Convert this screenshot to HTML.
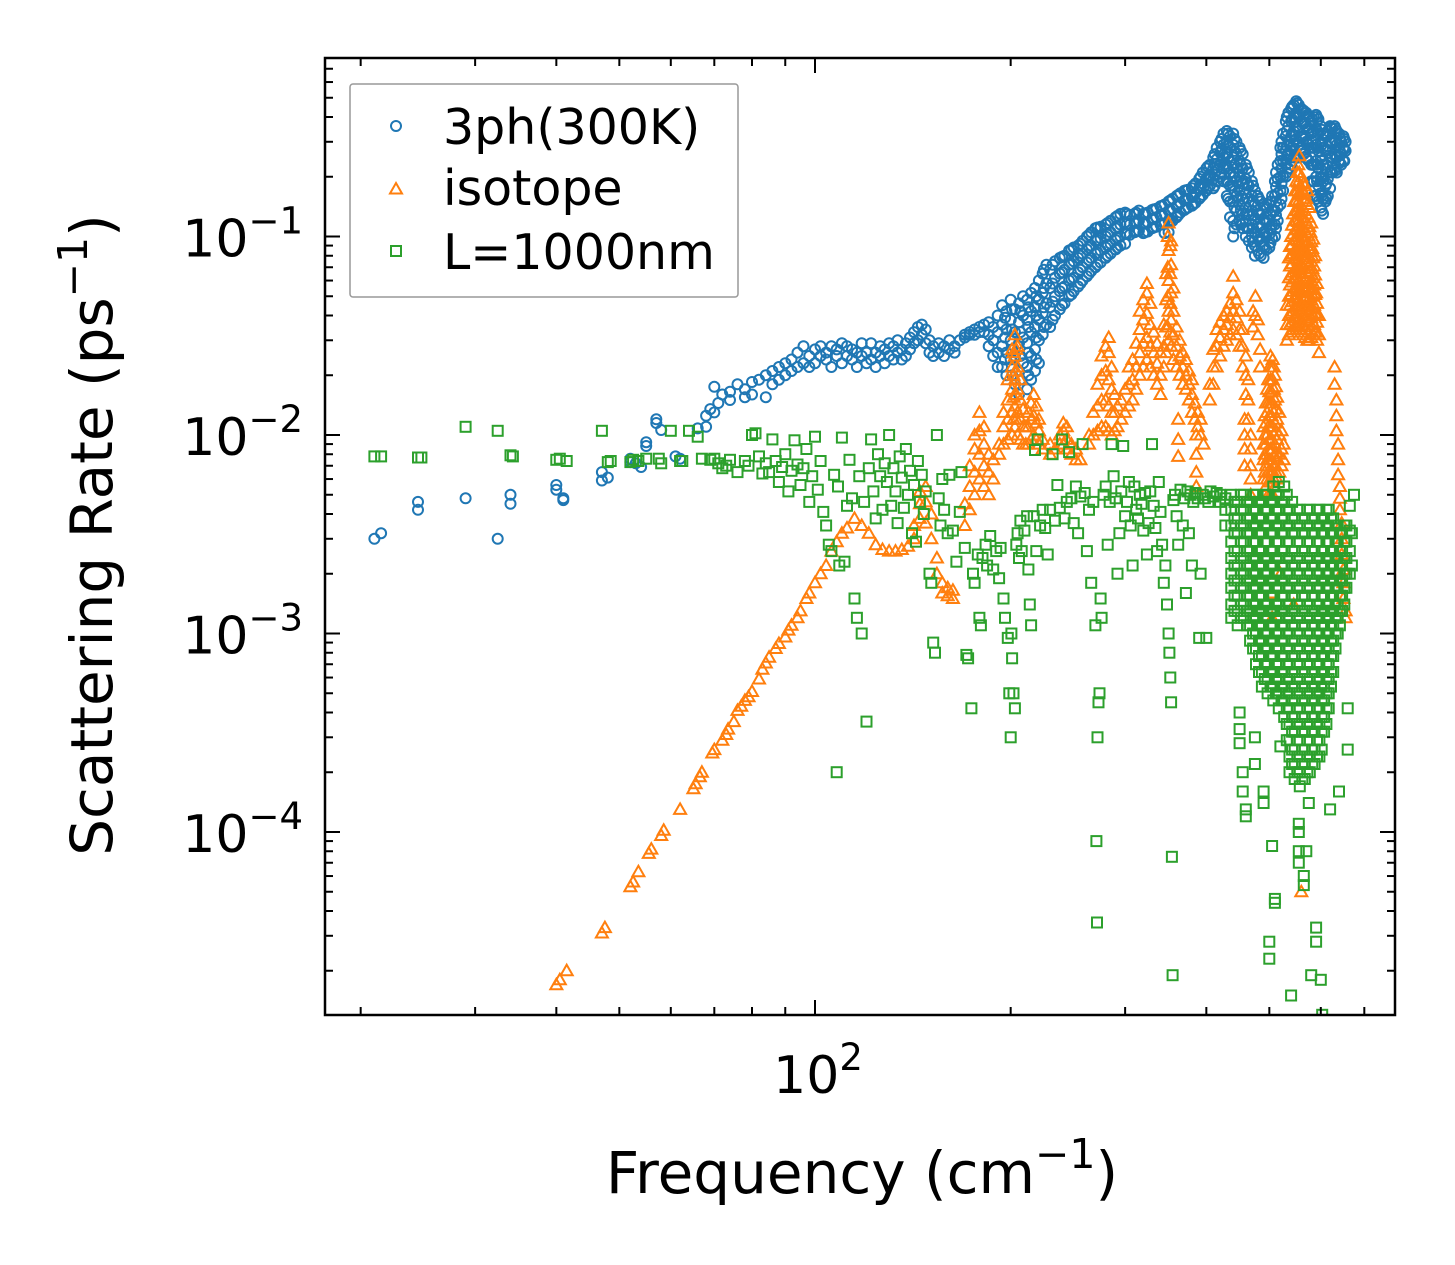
<!DOCTYPE html>
<html><head><meta charset="utf-8"><style>
html,body{margin:0;padding:0;background:#fff;}
svg{display:block;font-family:"DejaVu Sans","Liberation Sans",sans-serif;}
</style></head><body>
<svg id="chart" xmlns="http://www.w3.org/2000/svg" width="1455" height="1265" viewBox="0 0 1455 1265">
<defs><clipPath id="clip"><rect x="325" y="58" width="1070" height="957"/></clipPath></defs>
<rect x="0" y="0" width="1455" height="1265" fill="#fff"/>
<g id="marks" clip-path="url(#clip)"></g>
<g id="axes"></g>
<g id="legend">
<rect x="350" y="84" width="388" height="213" fill="#fff" fill-opacity="0.85" stroke="#999" stroke-width="1.5" rx="3"/>
<g><circle cx="396" cy="126" r="5" fill="none" stroke="#1f77b4" stroke-width="2"/><text x="443" y="144" font-size="49">3ph(300K)</text></g>
<g><polygon points="396,183 402,193.5 390,193.5" fill="none" stroke="#ff7f0e" stroke-width="2"/><text x="443" y="205" font-size="49">isotope</text></g>
<g><rect x="391" y="246" width="10" height="10" fill="none" stroke="#2ca02c" stroke-width="2"/><text x="443" y="269" font-size="49">L=1000nm</text></g>
</g>
<text x="862" y="1193" font-size="58" text-anchor="middle">Frequency (cm<tspan dy="-25" font-size="41">−1</tspan><tspan dy="25">)</tspan></text>
<text transform="translate(112,535) rotate(-90)" font-size="58" text-anchor="middle">Scattering Rate (ps<tspan dy="-25" font-size="41">−1</tspan><tspan dy="25">)</tspan></text>
</svg>
<script>
const blueRows=[[21,3.0e-3],[21.5,3.2e-3],[24.5,4.6e-3,4.2e-3],[29,4.8e-3],[32.5,3.0e-3],[34,5.0e-3,4.5e-3],[40,5.6e-3,5.3e-3],[41,4.8e-3,4.7e-3],[47,5.9e-3,6.5e-3],[48,6.1e-3],[52,7.3e-3,7.6e-3],[53,7.2e-3],[54,6.9e-3],[55,8.8e-3,9.2e-3],[57,1.2e-2,1.15e-2],[58,1.06e-2],[61,7.8e-3],[62,7.6e-3],[66,1.08e-2],[68,1.25e-2,1.1e-2],[69,1.35e-2],[70,1.75e-2,1.3e-2],[71,1.45e-2],[72,1.6e-2],[74,1.65e-2,1.5e-2],[76,1.8e-2],[78,1.7e-2,1.55e-2],[80,1.85e-2,1.6e-2],[82,1.9e-2],[84,2.0e-2,1.55e-2],[86,2.1e-2,1.8e-2],[88,2.2e-2,1.9e-2],[90,2.0e-2,2.3e-2],[92,2.1e-2,2.4e-2],[94,2.6e-2,2.2e-2],[96,2.3e-2,2.8e-2],[98,2.2e-2,2.5e-2],[100,2.7e-2,2.3e-2],[102,2.5e-2,2.8e-2],[104,2.4e-2,2.6e-2],[106,2.8e-2,2.2e-2],[108,2.5e-2,2.7e-2],[110,2.3e-2,2.9e-2],[112,2.5e-2,2.8e-2],[114,2.4e-2,2.7e-2],[116,2.2e-2,2.6e-2],[118,2.5e-2,2.9e-2],[120,2.6e-2,2.3e-2],[122,2.9e-2,2.4e-2],[124,2.6e-2,2.2e-2],[126,2.5e-2,2.8e-2],[128,2.7e-2,2.3e-2],[130,2.5e-2,2.9e-2],[132,2.8e-2,2.4e-2],[134,2.6e-2,3.0e-2],[136,2.7e-2,2.4e-2],[138,2.9e-2,2.5e-2],[140,3.1e-2,2.7e-2],[142,3.3e-2,2.9e-2],[144,3.5e-2,3.0e-2],[146,3.6e-2,3.2e-2],[148,3.4e-2,2.9e-2],[150,3.0e-2,2.6e-2],[152,2.8e-2,2.5e-2],[155,2.9e-2,2.6e-2],[158,2.8e-2,2.5e-2],[161,3.0e-2,2.7e-2],[164,2.8e-2,2.6e-2],[167,3.0e-2],[170,3.2e-2,3.1e-2],[173,3.3e-2,3.2e-2],[176,3.4e-2,3.2e-2],[179,3.5e-2,3.3e-2],[182,3.3e-2,3.6e-2],[185,3.7e-2,3.2e-2,2.8e-2],[188,3.5e-2,3.0e-2,2.5e-2],[191,4.0e-2,3.3e-2,2.6e-2,2.2e-2],[194,4.5e-2,3.6e-2,2.8e-2,2.2e-2],[197,4.2e-2,3.4e-2,2.6e-2,2.0e-2],[200,4.8e-2,3.8e-2,3.0e-2,2.4e-2],[203,4.3e-2,3.3e-2,2.5e-2,1.8e-2],[206,4.6e-2,3.7e-2,2.9e-2,2.1e-2,1.6e-2],[209,5.0e-2,4.0e-2,3.1e-2,2.3e-2],[212,4.8e-2,3.8e-2,2.9e-2,2.2e-2,1.7e-2],[215,5.2e-2,4.2e-2,3.3e-2,2.5e-2,1.9e-2],[218,5.5e-2,4.4e-2,3.5e-2,2.7e-2,2.1e-2],[221,6.0e-2,4.8e-2,3.8e-2,3.0e-2,2.3e-2],[224,6.5e-2,5.2e-2,4.1e-2,3.2e-2],[227,7.2e-2,5.8e-2,4.6e-2,3.6e-2],[230,6.8e-2,5.5e-2,4.4e-2,3.5e-2],[234,7.5e-2,6.2e-2,5.0e-2,4.0e-2],[238,7.8e-2,6.5e-2,5.3e-2,4.3e-2],[242,8.0e-2,6.8e-2,5.6e-2,4.6e-2],[246,8.5e-2,7.2e-2,6.0e-2,5.0e-2],[250,8.8e-2,7.5e-2,6.2e-2,5.3e-2],[254,9.0e-2,7.8e-2,6.6e-2,5.6e-2],[258,9.5e-2,8.2e-2,7.0e-2,6.0e-2],[262,1.0e-1,8.6e-2,7.4e-2,6.3e-2],[266,1.05e-1,9.0e-2,7.8e-2,6.7e-2],[270,1.1e-1,9.5e-2,8.2e-2,7.0e-2],[275,1.12e-1,9.8e-2,8.5e-2,7.4e-2],[280,1.15e-1,1.0e-1,8.8e-2,7.8e-2],[285,1.2e-1,1.05e-1,9.2e-2,8.2e-2],[290,1.25e-1,1.1e-1,9.6e-2,8.6e-2],[295,1.3e-1,1.15e-1,1.0e-1,9.0e-2],[300,1.32e-1,1.18e-1,1.04e-1,9.2e-2],[305,1.28e-1,1.15e-1,1.02e-1],[310,1.3e-1,1.17e-1,1.05e-1],[315,1.35e-1,1.2e-1,1.07e-1],[320,1.3e-1,1.16e-1,1.04e-1],[325,1.32e-1,1.18e-1,1.06e-1],[330,1.36e-1,1.22e-1,1.1e-1],[335,1.38e-1,1.25e-1,1.12e-1],[340,1.42e-1,1.28e-1,1.15e-1],[345,1.45e-1,1.3e-1,1.16e-1,1.04e-1],[350,1.5e-1,1.35e-1,1.2e-1,1.05e-1],[355,1.55e-1,1.38e-1,1.2e-1],[360,1.6e-1,1.42e-1,1.25e-1],[365,1.65e-1,1.48e-1,1.32e-1],[370,1.7e-1,1.52e-1,1.36e-1],[375,1.72e-1,1.55e-1,1.4e-1],[380,1.75e-1,1.58e-1,1.43e-1],[385,1.85e-1,1.65e-1,1.48e-1],[390,1.95e-1,1.75e-1,1.55e-1],[395,2.1e-1,1.85e-1,1.62e-1],[400,2.2e-1,1.95e-1,1.7e-1],[405,2.3e-1,2.05e-1,1.8e-1],[410,2.5e-1,2.2e-1,1.95e-1,1.75e-1],[415,2.8e-1,2.45e-1,2.15e-1,1.9e-1],[420,3.0e-1,2.65e-1,2.3e-1,2.0e-1],[425,3.3e-1,2.9e-1,2.5e-1,2.2e-1,1.9e-1],[430,3.4e-1,3.0e-1,2.6e-1,2.25e-1,1.9e-1,1.6e-1],[435,3.2e-1,2.8e-1,2.4e-1,2.1e-1,1.8e-1,1.5e-1,1.25e-1],[440,3.3e-1,2.9e-1,2.5e-1,2.1e-1,1.8e-1,1.5e-1,1.2e-1,1.0e-1],[445,3.0e-1,2.6e-1,2.2e-1,1.9e-1,1.6e-1,1.35e-1,1.15e-1],[450,2.8e-1,2.4e-1,2.0e-1,1.7e-1,1.45e-1,1.2e-1],[455,2.6e-1,2.2e-1,1.85e-1,1.55e-1,1.3e-1,1.1e-1],[460,2.3e-1,1.95e-1,1.65e-1,1.4e-1,1.2e-1,1.0e-1],[465,2.1e-1,1.8e-1,1.5e-1,1.28e-1,1.1e-1,9.5e-2],[470,1.9e-1,1.6e-1,1.35e-1,1.15e-1,1.0e-1,8.8e-2],[475,1.7e-1,1.45e-1,1.22e-1,1.05e-1,9.0e-2,8.0e-2],[480,1.6e-1,1.35e-1,1.15e-1,1.0e-1,8.5e-2],[485,1.5e-1,1.28e-1,1.1e-1,9.4e-2,8.0e-2],[490,1.45e-1,1.22e-1,1.05e-1,9.0e-2,7.8e-2],[495,1.4e-1,1.18e-1,1.0e-1,8.6e-2],[500,1.45e-1,1.2e-1,1.02e-1,8.8e-2],[505,1.6e-1,1.35e-1,1.15e-1,9.8e-2],[510,1.9e-1,1.6e-1,1.35e-1,1.15e-1,1.0e-1],[515,2.3e-1,1.95e-1,1.65e-1,1.4e-1,1.2e-1],[520,2.8e-1,2.4e-1,2.0e-1,1.7e-1,1.45e-1],[525,3.3e-1,2.8e-1,2.4e-1,2.0e-1,1.7e-1],[530,3.8e-1,3.2e-1,2.7e-1,2.3e-1,2.0e-1],[535,4.2e-1,3.6e-1,3.0e-1,2.6e-1,2.2e-1],[540,4.4e-1,3.8e-1,3.2e-1,2.7e-1,2.3e-1],[545,4.6e-1,4.0e-1,3.4e-1,2.9e-1,2.5e-1],[550,4.8e-1,4.2e-1,3.6e-1,3.1e-1,2.6e-1],[555,4.6e-1,4.0e-1,3.4e-1,2.9e-1,2.5e-1],[560,4.4e-1,3.8e-1,3.2e-1,2.8e-1],[565,4.3e-1,3.7e-1,3.1e-1,2.6e-1],[570,4.2e-1,3.6e-1,3.0e-1,2.5e-1],[575,4.0e-1,3.4e-1,2.9e-1,2.4e-1],[580,3.8e-1,3.3e-1,2.8e-1,2.3e-1,1.9e-1],[585,4.0e-1,3.4e-1,2.8e-1,2.3e-1,1.9e-1,1.6e-1],[590,4.1e-1,3.5e-1,2.9e-1,2.4e-1,2.0e-1,1.6e-1],[595,3.9e-1,3.3e-1,2.7e-1,2.2e-1,1.8e-1,1.5e-1],[600,3.6e-1,3.0e-1,2.5e-1,2.0e-1,1.65e-1,1.4e-1],[605,3.3e-1,2.8e-1,2.3e-1,1.9e-1,1.55e-1,1.3e-1],[610,3.2e-1,2.7e-1,2.2e-1,1.8e-1,1.5e-1],[615,3.4e-1,2.85e-1,2.35e-1,1.95e-1,1.6e-1],[620,3.6e-1,3.0e-1,2.5e-1,2.1e-1,1.75e-1],[625,3.5e-1,2.95e-1,2.5e-1,2.1e-1],[630,3.6e-1,3.05e-1,2.6e-1,2.2e-1],[635,3.4e-1,2.9e-1,2.5e-1,2.1e-1],[640,3.3e-1,2.8e-1,2.4e-1],[645,3.0e-1,2.6e-1,2.3e-1],[650,3.2e-1,2.8e-1,2.4e-1],[655,3.0e-1,2.7e-1],
[196,3.9e-2,3.1e-2,2.4e-2],[201,4.3e-2,3.4e-2,2.7e-2,2.0e-2],[207,4.2e-2,3.3e-2,2.5e-2,1.9e-2],[213,4.4e-2,3.5e-2,2.6e-2,2.0e-2],[219,5.0e-2,4.0e-2,3.1e-2,2.4e-2],[225,6.8e-2,5.5e-2,4.4e-2,3.5e-2],[232,7.2e-2,5.8e-2,4.7e-2,3.8e-2],[240,7.9e-2,6.6e-2,5.5e-2,4.5e-2],[248,8.6e-2,7.3e-2,6.1e-2,5.1e-2],[256,9.2e-2,8.0e-2,6.8e-2,5.8e-2],[264,1.02e-1,8.8e-2,7.6e-2,6.5e-2],[272,1.11e-1,9.6e-2,8.3e-2,7.2e-2],[282,1.17e-1,1.02e-1,9.0e-2,8.0e-2],[292,1.27e-1,1.12e-1,9.8e-2,8.8e-2],[302,1.3e-1,1.16e-1,1.03e-1],[312,1.32e-1,1.18e-1,1.06e-1],[322,1.31e-1,1.17e-1,1.05e-1],[332,1.37e-1,1.23e-1,1.11e-1],[342,1.43e-1,1.29e-1,1.15e-1],[352,1.52e-1,1.36e-1,1.2e-1],[362,1.62e-1,1.45e-1,1.28e-1],[372,1.71e-1,1.53e-1,1.38e-1],[382,1.8e-1,1.6e-1,1.45e-1],[392,2.0e-1,1.8e-1,1.58e-1],[402,2.25e-1,2.0e-1,1.75e-1],[412,2.6e-1,2.3e-1,2.05e-1,1.8e-1],[422,3.1e-1,2.75e-1,2.4e-1,2.1e-1],[432,3.3e-1,2.9e-1,2.5e-1,2.2e-1,1.85e-1,1.55e-1],[442,3.1e-1,2.7e-1,2.3e-1,2.0e-1,1.7e-1,1.4e-1,1.1e-1],[452,2.7e-1,2.3e-1,1.9e-1,1.6e-1,1.35e-1,1.15e-1],[462,2.2e-1,1.85e-1,1.55e-1,1.3e-1,1.1e-1],[472,1.8e-1,1.5e-1,1.28e-1,1.1e-1,9.4e-2],[482,1.55e-1,1.3e-1,1.12e-1,9.7e-2,8.2e-2],[492,1.42e-1,1.2e-1,1.03e-1,8.8e-2],[502,1.5e-1,1.28e-1,1.08e-1,9.3e-2],[512,2.1e-1,1.78e-1,1.5e-1,1.28e-1,1.1e-1],[522,3.0e-1,2.6e-1,2.2e-1,1.85e-1,1.55e-1],[532,4.0e-1,3.4e-1,2.85e-1,2.45e-1,2.1e-1],[542,4.5e-1,3.9e-1,3.3e-1,2.8e-1,2.4e-1],[552,4.7e-1,4.1e-1,3.5e-1,3.0e-1,2.55e-1],[562,4.35e-1,3.75e-1,3.15e-1,2.7e-1],[572,4.1e-1,3.5e-1,2.95e-1,2.45e-1],[582,3.9e-1,3.35e-1,2.8e-1,2.3e-1,1.9e-1],[592,4.0e-1,3.4e-1,2.8e-1,2.3e-1,1.9e-1,1.55e-1],[602,3.45e-1,2.9e-1,2.4e-1,1.95e-1,1.6e-1,1.35e-1],[612,3.3e-1,2.75e-1,2.3e-1,1.85e-1,1.55e-1],[622,3.55e-1,3.0e-1,2.5e-1,2.1e-1],[632,3.5e-1,3.0e-1,2.55e-1,2.15e-1],[642,3.15e-1,2.7e-1,2.35e-1],[652,3.1e-1,2.75e-1,2.4e-1]];

const orangeRows=[[40,1.7e-5],[40.5,1.8e-5],[41.5,2.0e-5],[47,3.1e-5],[47.5,3.3e-5],[52,5.3e-5],[52.5,5.6e-5],[53.5,6.3e-5],[55.5,7.8e-5],[56,8.2e-5],[58,9.6e-5],[58.5,1.02e-4],[62,1.3e-4],[65,1.65e-4],[65.5,1.75e-4],[66.5,1.9e-4],[67,2.0e-4],[69.5,2.5e-4],[70,2.6e-4],[72,2.9e-4],[73,3.1e-4],[73.5,3.3e-4],[75,3.6e-4],[76,4.1e-4],[77,4.3e-4],[78,4.6e-4],[79,4.8e-4],[80,5.1e-4],[82,5.9e-4],[83,6.6e-4],[84,7.1e-4],[85,7.6e-4],[87,8.4e-4],[88,8.9e-4],[90,9.6e-4],[91,1.04e-3],[92,1.1e-3],[94,1.2e-3],[95,1.3e-3],[97,1.5e-3],[98,1.6e-3],[100,1.8e-3],[102,2.0e-3],[104,2.2e-3],[106,2.6e-3],[108,2.9e-3],[110,3.2e-3],[112,3.4e-3],[115,3.8e-3],[118,3.5e-3],[121,3.2e-3],[124,2.8e-3],[127,2.65e-3],[130,2.6e-3],[133,2.6e-3],[136,2.65e-3],[139,2.75e-3],[142,3.0e-3,3.5e-3],[145,3.8e-3,4.5e-3,5.2e-3],[148,5.5e-3,4.6e-3,3.6e-3],[151,4.0e-3,3.0e-3],[154,2.4e-3,2.0e-3],[157,1.8e-3,1.6e-3],[160,1.55e-3,1.7e-3],[163,1.5e-3,1.65e-3],
[170,3.5e-3,4.5e-3],[173,4.2e-3,5.5e-3,7e-3],[176,5e-3,6.5e-3,8.5e-3,1e-2],[179,6e-3,8e-3,1.05e-2,1.3e-2],[182,5.5e-3,7e-3,9e-3,1.1e-2],[185,5e-3,6.5e-3,8e-3],[188,6e-3,7.5e-3],
[192,8e-3,9e-3],[195,9e-3,1.1e-2,1.3e-2],[198,9.5e-3,1.2e-2,1.5e-2,1.9e-2],[201,1e-2,1.3e-2,1.7e-2,2.2e-2,2.7e-2],[203,1.1e-2,1.4e-2,1.9e-2,2.5e-2,3.2e-2],[205,1e-2,1.3e-2,1.7e-2,2.2e-2,2.8e-2],[207,9.5e-3,1.2e-2,1.5e-2,1.9e-2],[209,9e-3,1.1e-2,1.35e-2],[211,9e-3,1.1e-2],[202,1.2e-2,1.55e-2,2e-2,2.6e-2],[204,1.2e-2,1.6e-2,2.1e-2,2.7e-2],
[213,9e-3,1.1e-2,1.3e-2],[215,9.5e-3,1.2e-2,1.45e-2],[217,1e-2,1.25e-2,1.6e-2],[219,9.5e-3,1.15e-2,1.4e-2],[221,9e-3,1.05e-2,1.2e-2],[224,8.5e-3,9.5e-3],
[230,8e-3,9e-3],[234,8.5e-3],[238,9e-3,1e-2],[241,9e-3,1.05e-2,1.15e-2],[244,8.5e-3,9.5e-3,1.1e-2],[248,8e-3,9e-3],[252,7.5e-3,8.5e-3],[256,7.5e-3],
[264,9e-3,1e-2],[268,1e-2,1.3e-2],[272,1.05e-2,1.4e-2,1.8e-2],[276,1.1e-2,1.5e-2,2e-2,2.5e-2],[280,1.1e-2,1.5e-2,2.1e-2,2.8e-2],[283,1.05e-2,1.4e-2,1.9e-2,2.6e-2,3.1e-2],[286,1e-2,1.3e-2,1.7e-2,2.2e-2],[289,1.05e-2,1.3e-2,1.6e-2],[292,1.1e-2,1.4e-2],
[296,1.2e-2,1.5e-2],[300,1.3e-2,1.7e-2],[304,1.4e-2,1.8e-2,2.2e-2],[308,1.5e-2,1.9e-2,2.4e-2],[312,1.7e-2,2.2e-2,2.9e-2],[316,2e-2,2.6e-2,3.4e-2,4.2e-2],[320,2.2e-2,2.9e-2,3.8e-2,4.8e-2],[324,2.4e-2,3.1e-2,4.1e-2,5.2e-2,5.8e-2],[328,2.2e-2,2.8e-2,3.6e-2,4.6e-2],[332,2e-2,2.6e-2,3.3e-2],[336,1.8e-2,2.3e-2,2.9e-2],[340,1.6e-2,2e-2,2.6e-2],
[344,2.2e-2,2.8e-2,3.6e-2],[347,2.6e-2,3.5e-2,4.8e-2,6.5e-2],[349,3.5e-2,5e-2,7e-2,1e-1],[350,3e-2,4.2e-2,6e-2,8.5e-2,1.17e-1],[352,3.3e-2,4.6e-2,6.5e-2,9e-2],[353,2.8e-2,3.8e-2,5.2e-2,7.2e-2,9.5e-2],[356,2.4e-2,3.2e-2,4.2e-2,5.5e-2],[360,2.2e-2,2.8e-2,3.5e-2],[364,2e-2,2.5e-2,3e-2],[368,1.8e-2,2.2e-2,2.6e-2],[372,1.7e-2,2e-2,2.4e-2],[376,1.5e-2,1.8e-2,2.1e-2],[380,1.3e-2,1.6e-2,1.9e-2],[384,1.2e-2,1.45e-2],[388,1.1e-2,1.3e-2],[392,1e-2,1.2e-2],[396,9e-3],
[362,1.2e-2,9.5e-3,7.8e-3],[386,1e-2,8e-3,6.5e-3,5.5e-3],
[405,1.5e-2,1.8e-2],[410,1.8e-2,2.2e-2,2.7e-2],[415,2.2e-2,2.8e-2,3.4e-2],[420,2.5e-2,3.1e-2,3.7e-2],[425,2.8e-2,3.4e-2,4e-2],[430,3e-2,3.6e-2,4.2e-2],[435,3.2e-2,3.9e-2,4.6e-2],[440,3.4e-2,4.2e-2,5.2e-2,6.3e-2],[445,3.2e-2,3.9e-2,4.8e-2],[450,2.8e-2,3.4e-2,4.2e-2],[455,2.2e-2,2.8e-2,3.4e-2],[460,1.6e-2,2e-2,2.5e-2],[464,1.2e-2,1.5e-2,1.9e-2],
[458,1.2e-2,1e-2,8.5e-3,7e-3],[468,1e-2,8.5e-3,7e-3,6e-3,5e-3],
[472,3.5e-2,4.2e-2],[476,4e-2,5e-2],[480,3.2e-2,3.8e-2],[484,2.2e-2,2.7e-2],
[490,6e-3,7.5e-3,9e-3,1.1e-2],[494,5.5e-3,7e-3,9e-3,1.15e-2,1.45e-2],[498,5e-3,6.5e-3,8.5e-3,1.1e-2,1.45e-2,1.9e-2],[502,5e-3,6.5e-3,8.5e-3,1.1e-2,1.45e-2,1.9e-2,2.5e-2],[506,5e-3,6.5e-3,8.5e-3,1.1e-2,1.45e-2,1.9e-2,2.4e-2],[510,5.5e-3,7e-3,9e-3,1.15e-2,1.5e-2,2e-2],[514,6e-3,7.5e-3,9.5e-3,1.2e-2,1.55e-2],[518,6.5e-3,8e-3,1e-2,1.3e-2],[522,7e-3,8.5e-3,1.05e-2],[526,7.5e-3,9e-3],
[492,6.5e-3,8e-3,1e-2,1.25e-2],[496,6e-3,7.5e-3,1e-2,1.3e-2,1.7e-2],[500,5.8e-3,7.5e-3,9.5e-3,1.25e-2,1.65e-2,2.2e-2],[504,5.8e-3,7.5e-3,9.5e-3,1.25e-2,1.65e-2,2.2e-2],[508,6e-3,7.8e-3,1e-2,1.3e-2,1.7e-2,2.2e-2],[512,6.5e-3,8.2e-3,1.05e-2,1.35e-2,1.75e-2],
[532,3e-2,3.6e-2,4.5e-2],[536,3.2e-2,4e-2,5e-2,6.2e-2,7.8e-2],[540,3.3e-2,4.1e-2,5.1e-2,6.4e-2,8e-2,1e-1],[544,3.4e-2,4.2e-2,5.3e-2,6.6e-2,8.2e-2,1.03e-1,1.3e-1],[548,3.5e-2,4.4e-2,5.5e-2,6.9e-2,8.6e-2,1.08e-1,1.35e-1,1.7e-1],[552,3.5e-2,4.4e-2,5.5e-2,6.9e-2,8.6e-2,1.08e-1,1.35e-1,1.7e-1,2.1e-1],[556,3.4e-2,4.3e-2,5.4e-2,6.8e-2,8.5e-2,1.06e-1,1.33e-1,1.67e-1,2.1e-1,2.55e-1],[560,3.3e-2,4.2e-2,5.3e-2,6.6e-2,8.3e-2,1.04e-1,1.3e-1,1.63e-1,2e-1],[564,3.2e-2,4e-2,5e-2,6.3e-2,7.9e-2,9.9e-2,1.24e-1,1.55e-1,1.85e-1],[568,3.1e-2,3.9e-2,4.9e-2,6.1e-2,7.7e-2,9.6e-2,1.2e-1,1.5e-1,1.8e-1],[572,3e-2,3.8e-2,4.7e-2,5.9e-2,7.4e-2,9.3e-2,1.16e-1,1.45e-1,1.7e-1],[576,3e-2,3.7e-2,4.6e-2,5.8e-2,7.2e-2,9e-2,1.12e-1,1.4e-1],[580,3.1e-2,3.9e-2,4.8e-2,6e-2,7.5e-2,9.4e-2,1.17e-1],[584,3.2e-2,4e-2,5e-2,6.2e-2,7.8e-2,9.7e-2],[588,3.3e-2,4.1e-2,5.1e-2,6.4e-2,8e-2],[592,3e-2,3.7e-2,4.6e-2,5.8e-2],[596,2.6e-2,3.2e-2,4e-2],
[538,3.6e-2,4.5e-2,5.7e-2,7.1e-2,8.9e-2],[542,3.7e-2,4.7e-2,5.9e-2,7.3e-2,9.1e-2,1.14e-1],[546,3.9e-2,4.9e-2,6.1e-2,7.7e-2,9.6e-2,1.2e-1,1.5e-1],[550,3.9e-2,4.9e-2,6.2e-2,7.7e-2,9.6e-2,1.2e-1,1.52e-1,1.9e-1],[554,3.8e-2,4.8e-2,6e-2,7.6e-2,9.5e-2,1.19e-1,1.5e-1,1.88e-1,2.3e-1],[558,3.7e-2,4.7e-2,5.9e-2,7.4e-2,9.3e-2,1.17e-1,1.46e-1,1.8e-1],[562,3.6e-2,4.5e-2,5.6e-2,7.1e-2,8.9e-2,1.11e-1,1.4e-1,1.7e-1],[566,3.5e-2,4.4e-2,5.5e-2,6.9e-2,8.6e-2,1.08e-1,1.35e-1,1.65e-1],[570,3.4e-2,4.2e-2,5.3e-2,6.6e-2,8.3e-2,1.04e-1,1.3e-1,1.55e-1],[574,3.3e-2,4.1e-2,5.2e-2,6.5e-2,8.1e-2,1.01e-1,1.25e-1],[578,3.4e-2,4.3e-2,5.4e-2,6.7e-2,8.4e-2,1.05e-1],[582,3.5e-2,4.4e-2,5.5e-2,6.9e-2,8.7e-2],[586,3.6e-2,4.5e-2,5.7e-2,7.1e-2],[590,3.3e-2,4.1e-2,5.2e-2],
[630,2.2e-2,1.8e-2],[634,1.5e-2,1.25e-2,1.05e-2],[638,9e-3,7.5e-3,6.3e-3],[642,5.5e-3,4.8e-3,4.2e-3],[646,3.6e-3,3e-3,2.5e-3],[650,2.1e-3,1.8e-3,1.5e-3],[655,1.3e-3,1.2e-3],
[560,5e-5],[505,1.6e-3,1.2e-3],[520,2e-3],[545,1.4e-3]];

const greenRows=[[21,7.8e-3],[21.5,7.8e-3],[24.5,7.7e-3],[24.8,7.7e-3],[29,1.1e-2],[32.5,1.05e-2],[34,7.9e-3],[34.3,7.8e-3],[40,7.5e-3],[40.5,7.6e-3],[41.5,7.4e-3],[47,1.05e-2],[48,7.3e-3],[48.5,7.4e-3],[52,7.3e-3],[52.5,7.5e-3],[53.5,7.4e-3],[55,7.6e-3],[57.5,7.6e-3],[58,7.2e-3],[60,1.05e-2],[62,7.4e-3],[62.5,7.4e-3],[64,1.05e-2],[66,9.8e-3],[67,7.6e-3],[69,7.5e-3],[70,7.6e-3],[71,7.2e-3],[72,6.8e-3],[73,7.0e-3],[74,7.5e-3],[76,6.5e-3],[78,7.4e-3],[79,7.0e-3],[80,1e-2],[81,1.02e-2],[82,7.8e-3],[83,6.4e-3],[84,7.2e-3],[85,6.5e-3],[86,9.5e-3],[87,7.4e-3],[88,5.8e-3],[89,6.9e-3],[90,8e-3],[91,5.2e-3],[92,6.6e-3],[93,9.4e-3],[94,7.1e-3],[95,5.6e-3],[96,6.8e-3],[97,8.5e-3],[98,4.6e-3],[99,6.2e-3],[100,9.8e-3],[101,5.3e-3],[102,7.4e-3],[103,4.1e-3],[104,3.5e-3],[105,2.8e-3],[106,2.6e-3],[107,6.3e-3],[108,2e-4],[108.5,5.5e-3],[109,2.2e-3],[110,9.7e-3],[111,2.3e-3],[112,4.4e-3],[113,7.5e-3],[114,4.8e-3],[115,1.5e-3],[116,1.2e-3],[117,6.2e-3],[118,1e-3],[119,4.6e-3],[120,3.6e-4],[121,6.8e-3],[122,9.5e-3],[123,5.2e-3],[124,3.8e-3],[125,8e-3],[126,6.2e-3],[127,4.2e-3],[128,7.2e-3],[129,5.8e-3],[130,1e-2],[131,4.4e-3],[132,6.8e-3],[133,5.2e-3],[134,3.6e-3],[135,7.8e-3],[136,6.1e-3],[137,4.3e-3],[138,8.5e-3],[139,5e-3],[140,6.6e-3],[141,3.2e-3],[142,5.6e-3],[143,2.9e-3],[144,7.4e-3],[145,4.6e-3],[146,6.3e-3],[147,4e-3],[148,5.2e-3],[150,2e-3],[151,1.8e-3],[152,9e-4],[153,8e-4],[154,1e-2],[155,4.8e-3],[156,3.5e-3],[157,6e-3],[158,4.2e-3],[160,3.2e-3],[161,6.3e-3],[163,3.3e-3],[165,2.3e-3],[167,4.1e-3],[168,6.5e-3],[170,2.7e-3],[171,7.8e-4],[172,7.5e-4],[174,4.2e-4],[175,2e-3],[176,1.8e-3],[178,2.5e-3],[179,1.2e-3],[180,1.1e-3],[181,2.4e-3],[183,2.8e-3],[184,2.2e-3],[186,3.1e-3],[188,2.1e-3],[190,2.6e-3],[192,1.9e-3],[193,2.7e-3],[195,1.5e-3],[196,1.2e-3],[198,9.5e-4],[199,5e-4],[200,3e-4],[200.5,1e-3],[201,7.5e-4],[202,5e-4],[203,4.2e-4],[204,2.8e-3],[205,3.2e-3],[206,2.4e-3],[207,3.7e-3],[208,2.6e-3],[210,3.3e-3],[212,3.9e-3],[213,2.1e-3],[214,1.4e-3],[215,1.1e-3],[217,3.9e-3],[218,8.4e-3],[219,2.6e-3],[220,9.5e-3],[222,3.5e-3],[224,4.2e-3],[226,3.4e-3],[228,2.5e-3],[230,4.2e-3],[232,8e-3],[234,3.7e-3],[236,5.6e-3],[238,4.3e-3],[240,9.5e-3],[242,3.8e-3],[244,4.6e-3],[246,8.2e-3],[248,4.8e-3],[250,3.6e-3],[252,5.5e-3],[254,3.2e-3],[256,4.9e-3],[258,9e-3],[260,5.1e-3],[262,2.6e-3],[264,4.2e-3],[266,1.8e-3],[268,4.6e-3],[270,1.1e-3],[271,9e-5],[271.5,3.5e-5],[272,3e-4],[273,4.5e-4],[274,5e-4],[275,1.5e-3],[276,1.2e-3],[278,5e-3],[280,5.5e-3],[282,2.8e-3],[284,4.6e-3],[286,9e-3],[288,6.2e-3],[290,4.8e-3],[292,2e-3],[294,3.2e-3],[296,5.2e-3],[298,8.8e-3],[300,3.9e-3],[302,4.6e-3],[304,5.8e-3],[306,3.5e-3],[308,2.2e-3],[310,5.5e-3],[312,4.2e-3],[314,3.8e-3],[316,5e-3],[318,4.5e-3],[320,3.3e-3],[322,5.1e-3],[324,2.5e-3],[326,3.6e-3],[328,5.2e-3],[330,9e-3],[332,4.4e-3],[334,3.4e-3],[336,2.6e-3],[338,5.8e-3],[340,4.1e-3],[342,2.8e-3],[344,1.8e-3],[346,2.2e-3],[348,1.4e-3],[350,1e-3],[351,8e-4],[352,6e-4],[353,4.5e-4],[354,7.5e-5],[355,1.9e-5],[356,4.7e-3],[358,5e-3],[360,3.9e-3],[362,2.8e-3],[365,5.3e-3],[368,3.5e-3],[370,4.8e-3],[372,1.6e-3],[374,5.2e-3],[376,3.2e-3],[378,5e-3],[380,2.2e-3],[382,4.6e-3],[385,5.1e-3],[388,4.8e-3],[390,9.5e-4],[392,2e-3],[395,5e-3],[398,4.8e-3],[400,9.5e-4],[403,4.6e-3],[406,5.2e-3],[410,4.9e-3],[415,5.1e-3],[420,5e-3,4.6e-3],[428,4.8e-3,4.2e-3,3.5e-3],
[437,5e-3,4.2e-3,3.5e-3,2.9e-3,2.4e-3,2e-3,1.7e-3,1.4e-3,1.2e-3],
[442,4.6e-3,3.8e-3,3.2e-3,2.6e-3,2.2e-3,1.85e-3,1.55e-3,1.3e-3],
[447,4.6e-3,3.8e-3,3.2e-3,2.6e-3,2.2e-3,1.85e-3,1.55e-3,1.3e-3,1.1e-3],
[452,5e-3,4.2e-3,3.5e-3,2.9e-3,2.4e-3,2e-3,1.7e-3,1.4e-3,1.2e-3],
[457,5e-3,4.2e-3,3.5e-3,2.9e-3,2.4e-3,2e-3,1.7e-3,1.4e-3,1.2e-3],
[462,4.6e-3,3.8e-3,3.2e-3,2.6e-3,2.2e-3,1.85e-3,1.55e-3,1.3e-3,1.1e-3],
[467,4.6e-3,3.8e-3,3.2e-3,2.6e-3,2.2e-3,1.85e-3,1.55e-3,1.3e-3,1.1e-3,9.2e-4],
[472,5e-3,4.2e-3,3.5e-3,2.9e-3,2.4e-3,2e-3,1.7e-3,1.4e-3,1.2e-3,1e-3,8.4e-4],
[477,5e-3,4.2e-3,3.5e-3,2.9e-3,2.4e-3,2e-3,1.7e-3,1.4e-3,1.2e-3,1e-3,8.4e-4,7e-4],
[482,4.6e-3,3.8e-3,3.2e-3,2.6e-3,2.2e-3,1.85e-3,1.55e-3,1.3e-3,1.1e-3,9.2e-4,7.7e-4,6.4e-4],
[487,4.6e-3,3.8e-3,3.2e-3,2.6e-3,2.2e-3,1.85e-3,1.55e-3,1.3e-3,1.1e-3,9.2e-4,7.7e-4,6.4e-4,5.4e-4],
[492,5e-3,4.2e-3,3.5e-3,2.9e-3,2.4e-3,2e-3,1.7e-3,1.4e-3,1.2e-3,1e-3,8.4e-4,7e-4,5.9e-4],
[497,5e-3,4.2e-3,3.5e-3,2.9e-3,2.4e-3,2e-3,1.7e-3,1.4e-3,1.2e-3,1e-3,8.4e-4,7e-4,5.9e-4,5e-4],
[502,4.6e-3,3.8e-3,3.2e-3,2.6e-3,2.2e-3,1.85e-3,1.55e-3,1.3e-3,1.1e-3,9.2e-4,7.7e-4,6.4e-4,5.4e-4],
[507,5.5e-3,4.6e-3,3.8e-3,3.2e-3,2.6e-3,2.2e-3,1.85e-3,1.55e-3,1.3e-3,1.1e-3,9.2e-4,7.7e-4,6.4e-4,5.4e-4,4.6e-4],
[512,5e-3,4.2e-3,3.5e-3,2.9e-3,2.4e-3,2e-3,1.7e-3,1.4e-3,1.2e-3,1e-3,8.4e-4,7e-4,5.9e-4,5e-4],
[517,5.8e-3,5e-3,4.2e-3,3.5e-3,2.9e-3,2.4e-3,2e-3,1.7e-3,1.4e-3,1.2e-3,1e-3,8.4e-4,7e-4,5.9e-4,5e-4,4.2e-4],
[522,4.6e-3,3.8e-3,3.2e-3,2.6e-3,2.2e-3,1.85e-3,1.55e-3,1.3e-3,1.1e-3,9.2e-4,7.7e-4,6.4e-4,5.4e-4,4.6e-4],
[527,5.5e-3,4.6e-3,3.8e-3,3.2e-3,2.6e-3,2.2e-3,1.85e-3,1.55e-3,1.3e-3,1.1e-3,9.2e-4,7.7e-4,6.4e-4,5.4e-4,4.6e-4,3.8e-4],
[532,5e-3,4.2e-3,3.5e-3,2.9e-3,2.4e-3,2e-3,1.7e-3,1.4e-3,1.2e-3,1e-3,8.4e-4,7e-4,5.9e-4,5e-4,4.2e-4,3.5e-4,2.9e-4],
[537,4.2e-3,3.5e-3,2.9e-3,2.4e-3,2e-3,1.7e-3,1.4e-3,1.2e-3,1e-3,8.4e-4,7e-4,5.9e-4,5e-4,4.2e-4,3.5e-4,2.9e-4,2.4e-4,2e-4],
[542,4.6e-3,3.8e-3,3.2e-3,2.6e-3,2.2e-3,1.85e-3,1.55e-3,1.3e-3,1.1e-3,9.2e-4,7.7e-4,6.4e-4,5.4e-4,4.6e-4,3.8e-4,3.2e-4,2.6e-4,2.2e-4],
[547,3.8e-3,3.2e-3,2.6e-3,2.2e-3,1.85e-3,1.55e-3,1.3e-3,1.1e-3,9.2e-4,7.7e-4,6.4e-4,5.4e-4,4.6e-4,3.8e-4,3.2e-4,2.6e-4,2.2e-4,1.85e-4],
[552,4.2e-3,3.5e-3,2.9e-3,2.4e-3,2e-3,1.7e-3,1.4e-3,1.2e-3,1e-3,8.4e-4,7e-4,5.9e-4,5e-4,4.2e-4,3.5e-4,2.9e-4,2.4e-4,2e-4],
[557,4.2e-3,3.5e-3,2.9e-3,2.4e-3,2e-3,1.7e-3,1.4e-3,1.2e-3,1e-3,8.4e-4,7e-4,5.9e-4,5e-4,4.2e-4,3.5e-4,2.9e-4,2.4e-4,2e-4,1.7e-4],
[562,3.8e-3,3.2e-3,2.6e-3,2.2e-3,1.85e-3,1.55e-3,1.3e-3,1.1e-3,9.2e-4,7.7e-4,6.4e-4,5.4e-4,4.6e-4,3.8e-4,3.2e-4,2.6e-4,2.2e-4,1.85e-4],
[567,3.8e-3,3.2e-3,2.6e-3,2.2e-3,1.85e-3,1.55e-3,1.3e-3,1.1e-3,9.2e-4,7.7e-4,6.4e-4,5.4e-4,4.6e-4,3.8e-4,3.2e-4,2.6e-4,2.2e-4,1.85e-4],
[572,4.2e-3,3.5e-3,2.9e-3,2.4e-3,2e-3,1.7e-3,1.4e-3,1.2e-3,1e-3,8.4e-4,7e-4,5.9e-4,5e-4,4.2e-4,3.5e-4,2.9e-4,2.4e-4,2e-4],
[577,4.2e-3,3.5e-3,2.9e-3,2.4e-3,2e-3,1.7e-3,1.4e-3,1.2e-3,1e-3,8.4e-4,7e-4,5.9e-4,5e-4,4.2e-4,3.5e-4,2.9e-4,2.4e-4,2e-4],
[582,3.8e-3,3.2e-3,2.6e-3,2.2e-3,1.85e-3,1.55e-3,1.3e-3,1.1e-3,9.2e-4,7.7e-4,6.4e-4,5.4e-4,4.6e-4,3.8e-4,3.2e-4,2.6e-4,2.2e-4],
[587,3.8e-3,3.2e-3,2.6e-3,2.2e-3,1.85e-3,1.55e-3,1.3e-3,1.1e-3,9.2e-4,7.7e-4,6.4e-4,5.4e-4,4.6e-4,3.8e-4,3.2e-4,2.6e-4,2.2e-4],
[592,4.2e-3,3.5e-3,2.9e-3,2.4e-3,2e-3,1.7e-3,1.4e-3,1.2e-3,1e-3,8.4e-4,7e-4,5.9e-4,5e-4,4.2e-4,3.5e-4,2.9e-4,2.4e-4],
[597,4.2e-3,3.5e-3,2.9e-3,2.4e-3,2e-3,1.7e-3,1.4e-3,1.2e-3,1e-3,8.4e-4,7e-4,5.9e-4,5e-4,4.2e-4,3.5e-4,2.9e-4,2.4e-4],
[602,3.8e-3,3.2e-3,2.6e-3,2.2e-3,1.85e-3,1.55e-3,1.3e-3,1.1e-3,9.2e-4,7.7e-4,6.4e-4,5.4e-4,4.6e-4,3.8e-4,3.2e-4,2.6e-4],
[607,3.8e-3,3.2e-3,2.6e-3,2.2e-3,1.85e-3,1.55e-3,1.3e-3,1.1e-3,9.2e-4,7.7e-4,6.4e-4,5.4e-4,4.6e-4,3.8e-4,3.2e-4],
[612,4.2e-3,3.5e-3,2.9e-3,2.4e-3,2e-3,1.7e-3,1.4e-3,1.2e-3,1e-3,8.4e-4,7e-4,5.9e-4,5e-4,4.2e-4,3.5e-4],
[617,4.2e-3,3.5e-3,2.9e-3,2.4e-3,2e-3,1.7e-3,1.4e-3,1.2e-3,1e-3,8.4e-4,7e-4,5.9e-4,5e-4,4.2e-4],
[622,3.8e-3,3.2e-3,2.6e-3,2.2e-3,1.85e-3,1.55e-3,1.3e-3,1.1e-3,9.2e-4,7.7e-4,6.4e-4,5.4e-4],
[627,3.8e-3,3.2e-3,2.6e-3,2.2e-3,1.85e-3,1.55e-3,1.3e-3,1.1e-3,9.2e-4,7.7e-4,6.4e-4],
[632,3.5e-3,2.9e-3,2.4e-3,2e-3,1.7e-3,1.4e-3,1.2e-3,1e-3,8.4e-4],
[637,3.5e-3,2.9e-3,2.4e-3,2e-3,1.7e-3,1.4e-3,1.2e-3,1e-3],
[642,3.2e-3,2.6e-3,2.2e-3,1.85e-3,1.55e-3,1.3e-3,1.1e-3],
[647,3.2e-3,2.6e-3,2.2e-3,1.85e-3,1.55e-3,1.3e-3],
[652,3.5e-3,2.9e-3,2.4e-3,2e-3,1.7e-3,1.4e-3],
[657,3.5e-3,2.9e-3,2.4e-3,2e-3,1.7e-3],
[450,4e-4,3.3e-4,2.8e-4],[455,2e-4,1.6e-4],[460,1.3e-4,1.2e-4],[475,3e-4,2.2e-4],[490,1.6e-4,1.4e-4],[500,2.8e-5,2.3e-5],[505,8.5e-5],[510,4.6e-5,4.4e-5],[520,2.7e-4],[540,1.5e-5],[555,1.1e-4,1e-4,8e-5,7e-5],[565,6e-5,5.4e-5],[570,8e-5],[575,1.4e-4],[580,1.9e-5],[590,3.3e-5,2.8e-5],[600,1.8e-5],[603,1.2e-5],[620,1.3e-4],[640,1.6e-4],[660,4.2e-4,2.6e-4],[665,4.4e-3,3.3e-3,2.6e-3,2e-3],[670,3.2e-3,2.2e-3],[675,5e-3]];

const yMajorTicks=[1e-1,1e-2,1e-3,1e-4];
const yTickExponents=["−1","−2","−3","−4"];
const xMajorTicks=[100];
const xTickExponents=["2"];

const NS="http://www.w3.org/2000/svg";
const L=325,R=1395,T=58,B=1015;
function xs(f){return 815+650*(Math.log10(f)-2);}
function ys(v){return 435-198.5*(Math.log10(v)+2);}
function el(tag,attrs,parent){const e=document.createElementNS(NS,tag);for(const k in attrs)e.setAttribute(k,attrs[k]);parent.appendChild(e);return e;}

const marks=document.getElementById('marks');
const gb=el('g',{fill:'none',stroke:'#1f77b4','stroke-width':2},marks);


blueRows.forEach(r=>{for(let i=1;i<r.length;i++){const c=el('circle',{cx:xs(r[0]).toFixed(1),cy:ys(r[i]).toFixed(1),r:5},gb);

}});
const go=el('g',{fill:'none',stroke:'#ff7f0e','stroke-width':2},marks);


orangeRows.forEach(r=>{for(let i=1;i<r.length;i++){const x=xs(r[0]),y=ys(r[i]);const p=el('polygon',{points:`${x.toFixed(1)},${(y-6).toFixed(1)} ${(x+6).toFixed(1)},${(y+4.5).toFixed(1)} ${(x-6).toFixed(1)},${(y+4.5).toFixed(1)}`},go);

}});
const gg=el('g',{fill:'none',stroke:'#2ca02c','stroke-width':2},marks);


greenRows.forEach(r=>{for(let i=1;i<r.length;i++){const s=el('rect',{x:(xs(r[0])-5).toFixed(1),y:(ys(r[i])-5).toFixed(1),width:10,height:10},gg);

}});

const axes=document.getElementById('axes');
const frame=el('rect',{x:L,y:T,width:R-L,height:B-T,fill:'none',stroke:'#000','stroke-width':2.5},axes);


const tk=el('g',{stroke:'#000','stroke-width':2},axes);


for(let d=10;d<=1000;d*=10){for(let m=1;m<10;m++){const f=d*m;const x=xs(f);if(x<L+1||x>R-1)continue;const len=m===1?15:8;
el('line',{x1:x,y1:B,x2:x,y2:B-len},tk);el('line',{x1:x,y1:T,x2:x,y2:T+len},tk);}}
for(let e=-5;e<=0;e++){for(let m=1;m<10;m++){const v=m*Math.pow(10,e);const y=ys(v);if(y<T+1||y>B-1)continue;const len=m===1?15:8;
el('line',{x1:L,y1:y,x2:L+len,y2:y},tk);el('line',{x1:R,y1:y,x2:R-len,y2:y},tk);}}
yMajorTicks.forEach((v,i)=>{const t=el('text',{x:303,y:(ys(v)+20).toFixed(1),'text-anchor':'end','font-size':52},axes);


t.textContent='10';const s=el('tspan',{dy:-23,'font-size':37},t);s.textContent=yTickExponents[i];});
xMajorTicks.forEach((f,i)=>{const t=el('text',{x:(xs(f)+3).toFixed(1),y:1093,'text-anchor':'middle','font-size':52},axes);


t.textContent='10';const s=el('tspan',{dy:-23,'font-size':37},t);s.textContent=xTickExponents[i];});
</script>
</body></html>
